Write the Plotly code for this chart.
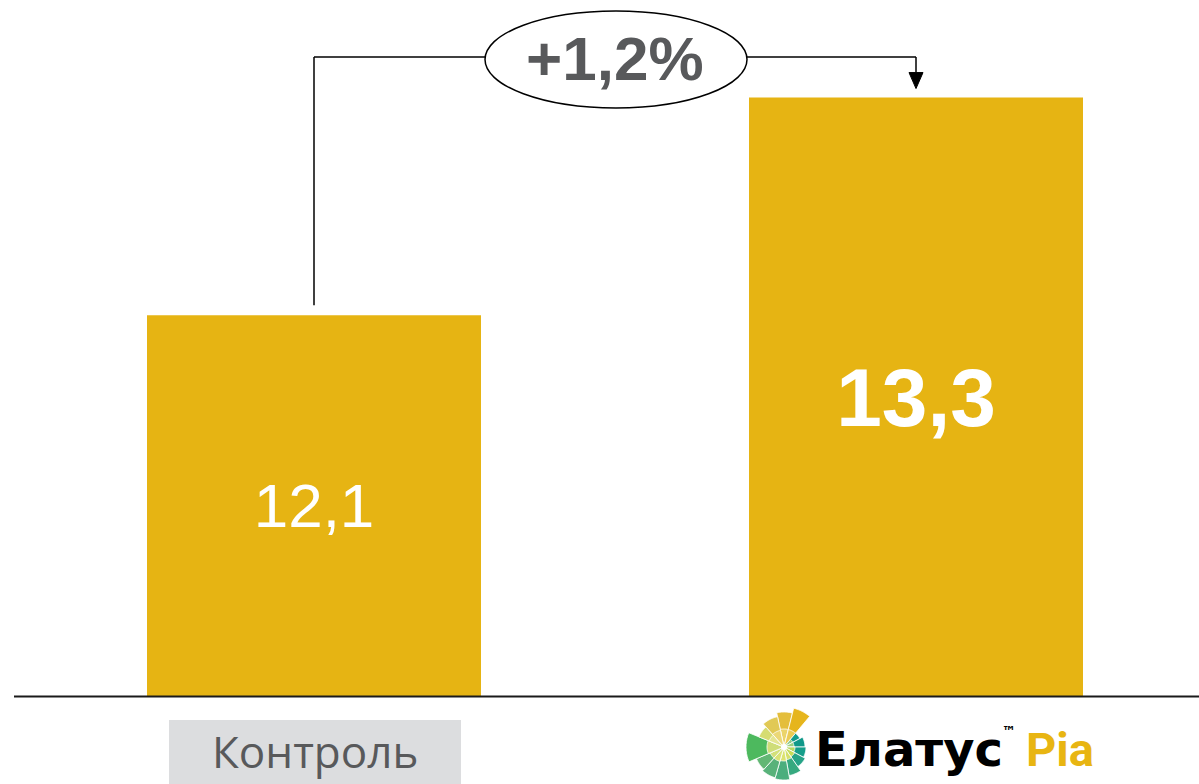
import math
import plotly.graph_objects as go

# ---------------- data ----------------
categories = ["Контроль", "Елатус Ріа"]
values = [12.1, 13.3]
value_labels = ["12,1", "<b>13,3</b>"]
diff_label = "<b>+1,2%</b>"
axis_base = 10.0

# ---------------- geometry helpers ----------------
W, H = 1199, 784
PX_PER_UNIT = 181.5          # vertical pixels per value unit
BASE_PY = 696.5              # pixel row of the baseline
X_PX_PER_CAT = 602           # horizontal pixels between category centres
X0_PX = 314                  # pixel column of first category centre

y_min = axis_base - (H - BASE_PY) / PX_PER_UNIT
y_max = axis_base + BASE_PY / PX_PER_UNIT
x_min = -X0_PX / X_PX_PER_CAT
x_max = (W - X0_PX) / X_PX_PER_CAT


def yd(py):
    return axis_base + (BASE_PY - py) / PX_PER_UNIT


def xd(px):
    return (px - X0_PX) / X_PX_PER_CAT


BAR = "#E6B413"
GREY_TXT = "#58595B"

fig = go.Figure()
fig.add_trace(go.Bar(
    x=[0, 1],
    y=[v - axis_base for v in values],
    base=axis_base,
    width=334 / X_PX_PER_CAT,
    marker=dict(color=BAR, line=dict(width=0)),
    text=value_labels,
    textposition="inside",
    insidetextanchor="middle",
    textangle=0,
    textfont=dict(family="Liberation Sans, Arial, sans-serif", color="white", size=[62, 82]),
    hoverinfo="skip",
))

shapes = []
# baseline
shapes.append(dict(type="line", xref="paper", yref="y", x0=14 / W, x1=1, y0=axis_base, y1=axis_base,
                   line=dict(color="#1a1a1a", width=2)))
top_y = yd(57)
# left connector
shapes.append(dict(type="line", x0=0, x1=0, y0=values[0] + 10 / PX_PER_UNIT, y1=top_y,
                   line=dict(color="black", width=1.5)))
shapes.append(dict(type="line", x0=0, x1=xd(486), y0=top_y, y1=top_y,
                   line=dict(color="black", width=1.5)))
# right connector
shapes.append(dict(type="line", x0=xd(746), x1=1, y0=top_y, y1=top_y,
                   line=dict(color="black", width=1.5)))
tip_y = values[1] + 9 / PX_PER_UNIT
head_y = tip_y + 16 / PX_PER_UNIT
shapes.append(dict(type="line", x0=1, x1=1, y0=top_y, y1=head_y,
                   line=dict(color="black", width=1.5)))
hw = 7 / X_PX_PER_CAT
shapes.append(dict(type="path",
                   path=f"M {1 - hw} {head_y} L {1 + hw} {head_y} L 1 {tip_y} Z",
                   fillcolor="black", line=dict(color="black", width=1)))
# ellipse
shapes.append(dict(type="circle", x0=xd(485), x1=xd(747), y0=yd(108), y1=yd(11),
                   fillcolor="white", line=dict(color="black", width=1.5)))

# label box under "Контроль"
shapes.append(dict(type="rect", xref="paper", yref="paper", x0=169 / W, x1=461 / W,
                   y0=0, y1=1 - 720 / H, fillcolor="#DCDDDF", line=dict(width=0), layer="below"))

# ---------------- logo icon (decoration) ----------------
cx, cy = 784, 747
# (start angle, end angle, outer radius, outer colour, inner radius, inner colour) compass degrees
wedges = [
    (-12, 14, 35, "#E4BE3C", 18, "#EBD46A"),
    (14, 40, 40, "#E6B51C", 18, "#EBCB55"),
    (40, 62, 18, "#139C8C", 10, "#8CC98A"),
    (62, 90, 21, "#0F9889", 10, "#9BCF7E"),
    (90, 118, 22, "#159E8A", 11, "#B8D85E"),
    (118, 145, 24, "#26A387", 12, "#C7DC58"),
    (145, 170, 29, "#36A97F", 13, "#D5E06A"),
    (170, 196, 33, "#4BAE7D", 14, "#DCE370"),
    (196, 222, 32, "#58B27A", 15, "#D9E275"),
    (222, 247, 30, "#62B774", 15, "#D3E07A"),
    (247, 292, 38, "#4DB95E", 17, "#CFDD78"),
    (292, 318, 27, "#D6DC72", 16, "#E4E592"),
    (318, 348, 31, "#E1C955", 17, "#EBD877"),
]


def to_paper(px, py):
    return px / W, 1 - py / H


def wedge_path(a0, a1, r):
    pts = [to_paper(cx, cy)]
    n = 10
    for i in range(n + 1):
        a = math.radians(a0 + (a1 - a0) * i / n)
        pts.append(to_paper(cx + r * math.sin(a), cy - r * math.cos(a)))
    return "M " + " L ".join(f"{x:.5f} {y:.5f}" for x, y in pts) + " Z"


for a0, a1, r_out, c_out, r_in, c_in in wedges:
    shapes.append(dict(type="path", xref="paper", yref="paper", path=wedge_path(a0, a1, r_out),
                       fillcolor=c_out, line=dict(color="white", width=0.8)))
    shapes.append(dict(type="path", xref="paper", yref="paper", path=wedge_path(a0, a1, r_in),
                       fillcolor=c_in, line=dict(color="white", width=0.8)))
dot = 3
shapes.append(dict(type="circle", xref="paper", yref="paper",
                   x0=(cx - dot) / W, x1=(cx + dot) / W, y0=1 - (cy + dot) / H, y1=1 - (cy - dot) / H,
                   fillcolor="white", line=dict(width=0)))

annotations = [
    dict(x=0.5, y=yd(58), xref="x", yref="y", text=diff_label, showarrow=False,
         xanchor="center", yanchor="middle",
         font=dict(family="Liberation Sans, Arial, sans-serif", size=62, color=GREY_TXT)),
    dict(x=315 / W, y=1 - 751 / H, xref="paper", yref="paper", text=categories[0], showarrow=False,
         xanchor="center", yanchor="middle",
         font=dict(family="Open Sans, sans-serif", size=44, color=GREY_TXT)),
    dict(x=813 / W, y=1 - 749 / H, xref="paper", yref="paper", xanchor="left", yanchor="middle",
         text="<b>Елатус</b>", showarrow=False,
         font=dict(family="DejaVu Sans, sans-serif", size=48, color="black")),
    dict(x=1000 / W, y=1 - 731 / H, xref="paper", yref="paper", xanchor="left", yanchor="middle",
         text="<b>™</b>", showarrow=False,
         font=dict(family="DejaVu Sans, sans-serif", size=14, color="black")),
    dict(x=1024 / W, y=1 - 749 / H, xref="paper", yref="paper", xanchor="left", yanchor="middle",
         text="<b>Pia</b>", showarrow=False,
         font=dict(family="Roboto, sans-serif", size=47, color="#E8B512")),
]

fig.update_layout(
    width=W, height=H,
    margin=dict(l=0, r=0, t=0, b=0),
    paper_bgcolor="white", plot_bgcolor="white",
    showlegend=False,
    xaxis=dict(range=[x_min, x_max], visible=False, fixedrange=True),
    yaxis=dict(range=[y_min, y_max], visible=False, fixedrange=True),
    shapes=shapes,
    annotations=annotations,
    uniformtext=dict(mode=False),
)

fig.write_html("out.html", config={"displayModeBar": False},
               post_script="document.body.style.margin='0';")
